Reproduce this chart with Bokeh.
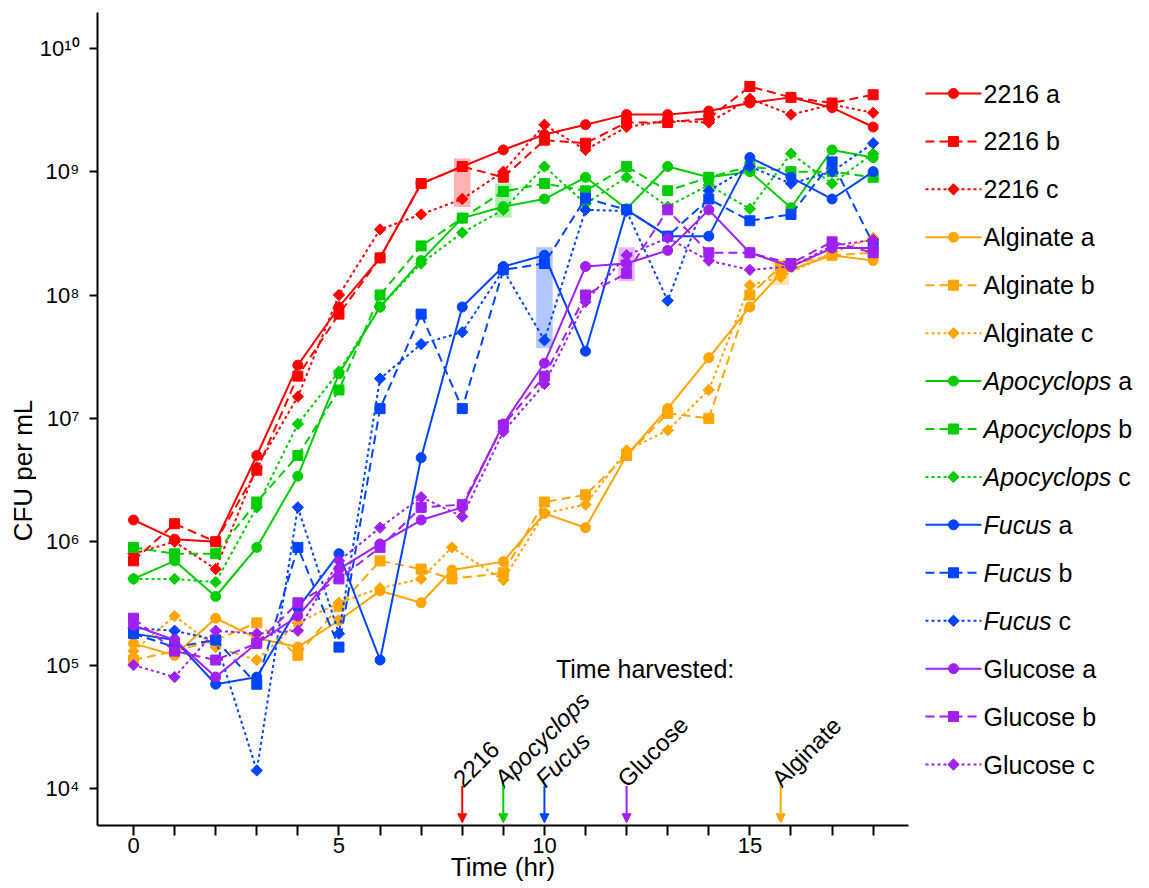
import math
from bokeh.plotting import figure
from bokeh.models import Range1d, FixedTicker, Arrow, NormalHead
from bokeh.layouts import row
from bokeh.embed import file_html
from bokeh.resources import INLINE
from bokeh.core.properties import value

FONT = "Liberation Sans"

# ---------------- data ----------------
times = list(range(19))
alg_times = [0, 1, 2, 3, 4, 5, 6, 7, 7.75, 9, 10, 11, 12, 13, 14, 15, 15.75, 17, 18]

m2216_a = [1.5e6, 1.05e6, 1.0e6, 5.0e6, 2.7e7, 8.0e7, 2.0e8, 8.0e8, 1.1e9, 1.5e9, 2.0e9, 2.4e9, 2.9e9, 2.9e9, 3.1e9, 3.6e9, 4.0e9, 3.3e9, 2.3e9]
m2216_b = [7.0e5, 1.4e6, 1.0e6, 3.8e6, 2.2e7, 7.0e7, 2.0e8, 8.0e8, 1.1e9, 9.0e8, 1.8e9, 1.7e9, 2.5e9, 2.5e9, 2.7e9, 4.9e9, 4.0e9, 3.6e9, 4.2e9]
m2216_c = [8.0e5, 1.0e6, 6.0e5, 4.0e6, 1.5e7, 1.0e8, 3.4e8, 4.5e8, 6.0e8, 1.0e9, 2.4e9, 1.5e9, 2.3e9, 2.6e9, 2.5e9, 3.9e9, 2.9e9, 3.5e9, 3.0e9]

alg_a = [1.5e5, 1.2e5, 2.4e5, 1.65e5, 1.4e5, 2.3e5, 4.0e5, 3.2e5, 5.9e5, 6.9e5, 1.7e6, 1.3e6, 5.0e6, 1.2e7, 3.1e7, 8.0e7, 1.5e8, 2.1e8, 1.9e8]
alg_b = [1.1e5, 1.3e5, 1.6e5, 2.2e5, 1.2e5, 3.0e5, 7.0e5, 6.0e5, 5.0e5, 5.6e5, 2.1e6, 2.4e6, 5.0e6, 1.1e7, 1.0e7, 1.0e8, 1.7e8, 2.1e8, 2.2e8]
alg_c = [1.3e5, 2.5e5, 1.4e5, 1.1e5, 2.2e5, 3.2e5, 4.2e5, 5.0e5, 9.0e5, 4.9e5, 1.7e6, 2.0e6, 5.5e6, 8.0e6, 1.7e7, 1.2e8, 1.4e8, 2.2e8, 2.9e8]

apo_a = [5.0e5, 7.0e5, 3.6e5, 9.0e5, 3.4e6, 2.3e7, 8.0e7, 1.9e8, 4.2e8, 5.2e8, 6.0e8, 9.0e8, 5.0e8, 1.1e9, 9.0e8, 1.0e9, 5.1e8, 1.5e9, 1.3e9]
apo_b = [9.0e5, 8.0e5, 8.0e5, 2.1e6, 5.0e6, 1.7e7, 1.0e8, 2.5e8, 4.2e8, 6.9e8, 8.0e8, 7.0e8, 1.1e9, 7.0e8, 9.0e8, 1.1e9, 1.0e9, 1.0e9, 9.0e8]
apo_c = [5.0e5, 5.0e5, 4.7e5, 1.9e6, 9.0e6, 2.4e7, 8.0e7, 1.8e8, 3.2e8, 4.9e8, 1.1e9, 5.5e8, 9.0e8, 5.2e8, 7.8e8, 5.0e8, 1.4e9, 8.0e8, 1.4e9]

fuc_a = [1.8e5, 1.6e5, 7.0e4, 8.0e4, 2.9e5, 8.0e5, 1.1e5, 4.8e6, 8.0e7, 1.7e8, 2.1e8, 3.5e7, 4.9e8, 3.0e8, 3.0e8, 1.3e9, 9.0e8, 6.0e8, 1.0e9]
fuc_b = [1.8e5, 1.4e5, 1.6e5, 7.0e4, 9.0e5, 1.4e5, 1.2e7, 7.0e7, 1.2e7, 1.6e8, 1.8e8, 6.1e8, 4.9e8, 3.0e8, 6.0e8, 4.0e8, 4.5e8, 1.2e9, 2.6e8]
fuc_c = [2.0e5, 1.9e5, 1.6e5, 1.4e4, 1.9e6, 1.8e5, 2.1e7, 4.0e7, 5.0e7, 1.6e8, 4.3e7, 4.9e8, 4.8e8, 9.0e7, 7.0e8, 1.1e9, 8.0e8, 1.0e9, 1.7e9]

glu_a = [2.1e5, 1.6e5, 8.0e4, 1.5e5, 2.5e5, 6.0e5, 9.6e5, 1.5e6, 1.9e6, 9.0e6, 2.8e7, 1.7e8, 1.8e8, 2.3e8, 4.9e8, 2.2e8, 1.7e8, 2.4e8, 2.4e8]
glu_b = [2.4e5, 1.3e5, 1.1e5, 1.5e5, 3.2e5, 5.0e5, 9.0e5, 1.9e6, 2.0e6, 8.8e6, 2.2e7, 1.0e8, 1.5e8, 4.9e8, 2.2e8, 2.2e8, 1.8e8, 2.7e8, 2.2e8]
glu_c = [1.0e5, 8.0e4, 1.9e5, 1.8e5, 1.9e5, 7.0e5, 1.3e6, 2.3e6, 1.6e6, 7.8e6, 1.9e7, 8.8e7, 2.1e8, 2.9e8, 1.9e8, 1.6e8, 1.7e8, 2.5e8, 2.8e8]

media = ["2216", "Alginate", "Apocyclops", "Fucus", "Glucose"]
italic_media = ["Apocyclops", "Fucus"]
replicates = ["a", "b", "c"]
media_colors = {"2216": "#FF0000", "Alginate": "#FFA500", "Apocyclops": "#00CD00",
                "Fucus": "#0044FF", "Glucose": "#A020F0"}
media_times = {"2216": times, "Alginate": alg_times, "Apocyclops": times,
               "Fucus": times, "Glucose": times}
media_values = {"2216": [m2216_a, m2216_b, m2216_c], "Alginate": [alg_a, alg_b, alg_c],
                "Apocyclops": [apo_a, apo_b, apo_c], "Fucus": [fuc_a, fuc_b, fuc_c],
                "Glucose": [glu_a, glu_b, glu_c]}
harvest_order = ["2216", "Apocyclops", "Fucus", "Glucose", "Alginate"]
harvest_time = {"2216": 8, "Apocyclops": 9, "Fucus": 10, "Glucose": 12, "Alginate": 15.75}

y_ticks = [1e4, 1e5, 1e6, 1e7, 1e8, 1e9, 1e10]
y_tick_labels = ["10\u2074", "10\u2075", "10\u2076", "10\u2077", "10\u2078", "10\u2079", "10\u00b9\u2070"]
x_ticks = list(range(19))
x_label_ticks = [0, 5, 10, 15]

# ---------------- styles ----------------
rep_dash = {"a": "solid", "b": "9 5", "c": "3 3"}
rep_marker = {"a": ("circle", 10, 0.0), "b": ("square", 10, 0.0), "c": ("square", 8, math.pi / 4)}
H = 888
FRAME_TOP, FRAME_BOTTOM = 12, 825

# ---------------- y-title strip ----------------
ylab = figure(width=36, height=H, x_range=Range1d(0, 36), y_range=Range1d(FRAME_BOTTOM, FRAME_TOP),
              output_backend="svg", toolbar_location=None,
              x_axis_location=None, y_axis_location=None,
              min_border_left=0, min_border_right=0, min_border_top=FRAME_TOP,
              min_border_bottom=H - FRAME_BOTTOM)
ylab.grid.visible = False
ylab.outline_line_color = None
ylab.text(x=[22], y=[470], text=["CFU per mL"], angle=math.pi / 2, text_font=value(FONT),
          text_font_size="26px", text_align="center", text_baseline="middle", text_color="black")

# ---------------- main figure ----------------
p = figure(width=879, height=H, y_axis_type="log",
           x_range=Range1d(-0.876, 18.86), y_range=Range1d(10 ** 3.70, 10 ** 10.29),
           output_backend="svg", toolbar_location=None,
           min_border_left=61, min_border_right=7, min_border_top=FRAME_TOP,
           min_border_bottom=H - FRAME_BOTTOM)
p.grid.visible = False
p.outline_line_color = None

# harvest highlight boxes
for m in harvest_order:
    t = harvest_time[m]
    idx = media_times[m].index(t)
    vals = [v[idx] for v in media_values[m]]
    p.quad(left=[t - 0.2], right=[t + 0.2], bottom=[min(vals) / 1.16], top=[max(vals) * 1.16],
           fill_color=media_colors[m], fill_alpha=0.3, line_color=None)

for m in media:
    c = media_colors[m]
    for rep, vals in zip(replicates, media_values[m]):
        p.line(media_times[m], vals, line_color=c, line_width=2, line_dash=rep_dash[rep])
        mk, sz, ang = rep_marker[rep]
        p.scatter(media_times[m], vals, marker=mk, size=sz, angle=ang,
                  fill_color=c, line_color=c, line_width=1)

# arrows + labels for harvest times
for m in harvest_order:
    t = harvest_time[m]
    c = media_colors[m]
    p.add_layout(Arrow(x_start=t, y_start=10 ** 4.02, x_end=t, y_end=10 ** 3.722,
                       line_color=c, line_width=2,
                       end=NormalHead(size=9, fill_color=c, line_color=c, line_width=1)))
    p.text(x=[t], y=[10 ** 4.047], text=[m], angle=math.pi / 4,
           text_font=value(FONT), text_font_size="24px",
           text_font_style="italic" if m in italic_media else "normal",
           text_align="left", text_baseline="alphabetic", text_color="black", x_offset=-5)

p.text(x=[12.45], y=[10 ** 4.97], text=["Time harvested:"], text_font=value(FONT),
       text_font_size="25px", text_align="center", text_baseline="middle", text_color="black")

# axes
for ax in (p.xaxis[0], p.yaxis[0]):
    ax.axis_line_width = 2
    ax.axis_line_color = "black"
    ax.major_tick_line_width = 2
    ax.major_tick_line_color = "black"
    ax.minor_tick_line_color = None
    ax.major_tick_in = 0
    ax.major_label_text_font = FONT
    ax.major_label_text_color = "black"
    ax.major_label_text_font_size = "22px"

p.yaxis.ticker = FixedTicker(ticks=y_ticks)
p.yaxis.major_label_overrides = {t: lab for t, lab in zip(y_ticks, y_tick_labels)}
p.yaxis.major_tick_out = 8
p.yaxis.major_label_standoff = 10

p.xaxis.ticker = FixedTicker(ticks=x_ticks)
p.xaxis.major_label_overrides = {t: (str(t) if t in x_label_ticks else "") for t in x_ticks}
p.xaxis.major_tick_out = 10
p.xaxis.major_label_standoff = 2
p.xaxis.axis_label = "Time (hr)"
p.xaxis.axis_label_text_font = FONT
p.xaxis.axis_label_text_font_style = "normal"
p.xaxis.axis_label_text_font_size = "26px"
p.xaxis.axis_label_text_color = "black"
p.xaxis.axis_label_standoff = -4

# ---------------- legend figure ----------------
leg = figure(width=234, height=H, x_range=Range1d(0, 234), y_range=Range1d(FRAME_BOTTOM, FRAME_TOP),
             output_backend="svg", toolbar_location=None,
             x_axis_location=None, y_axis_location=None,
             min_border_left=0, min_border_right=0, min_border_top=FRAME_TOP,
             min_border_bottom=H - FRAME_BOTTOM)
leg.grid.visible = False
leg.outline_line_color = None

arial_w = {'A': 667, 'p': 556, 'o': 556, 'c': 500, 'y': 500, 'l': 222, 's': 500,
           'F': 611, 'u': 556}
LEG_FS = 25
row_y0 = 93
row_dy = 47.93
k = 0
for m in media:
    c = media_colors[m]
    for rep in replicates:
        y = row_y0 + row_dy * k
        leg.segment(x0=[10], y0=[y], x1=[66], y1=[y], line_color=c, line_width=2,
                    line_dash=rep_dash[rep])
        mk, sz, ang = rep_marker[rep]
        leg.scatter([38], [y], marker=mk, size=sz, angle=-ang, fill_color=c, line_color=c)
        if m in italic_media:
            leg.text(x=[68], y=[y], text=[m], text_font=value(FONT),
                     text_font_size=f"{LEG_FS}px", text_font_style="italic",
                     text_baseline="middle", text_align="left", text_color="black")
            w = sum(arial_w[ch] for ch in m) * LEG_FS / 1000 + 278 * LEG_FS / 1000
            leg.text(x=[68 + w], y=[y], text=[rep], text_font=value(FONT),
                     text_font_size=f"{LEG_FS}px", text_baseline="middle",
                     text_align="left", text_color="black")
        else:
            leg.text(x=[68], y=[y], text=[f"{m} {rep}"], text_font=value(FONT),
                     text_font_size=f"{LEG_FS}px", text_baseline="middle",
                     text_align="left", text_color="black")
        k += 1

layout = row(ylab, p, leg)
open("out.html", "w").write(file_html(layout, INLINE))
